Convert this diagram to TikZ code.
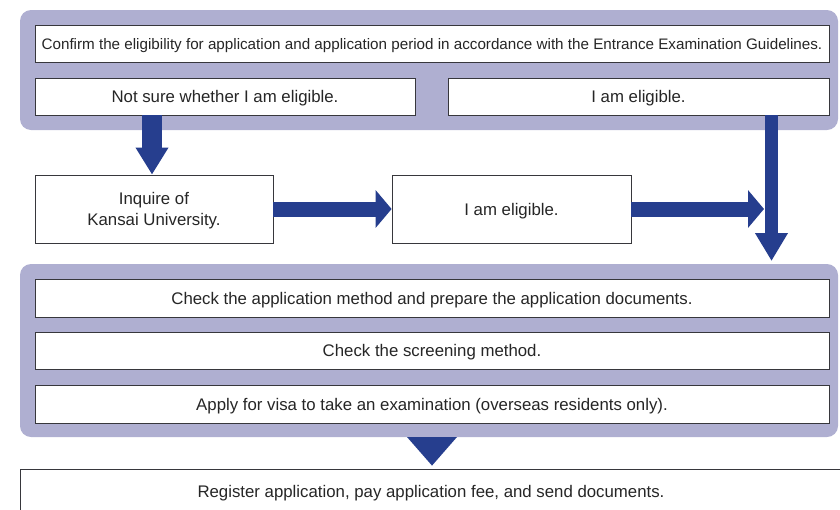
\documentclass[tikz,border=0pt]{standalone}
\usepackage{fontspec}
\setmainfont{Liberation Sans}
\usetikzlibrary{arrows.meta,calc}
\definecolor{panelc}{RGB}{175,175,209}
\definecolor{arrowc}{RGB}{38,62,142}
\definecolor{edgec}{RGB}{55,55,60}
\begin{document}
\begin{tikzpicture}[x=1pt,y=-1pt,
  panel/.style={fill=panelc,rounded corners=11pt},
  box/.style={draw=edgec,line width=0.8pt,fill=white,inner sep=0pt,align=center,
     text depth=0pt,font=\fontsize{16.8}{21}\selectfont,text=black!85},
  fatarrow/.style={draw=arrowc,line width=#1},
]
\useasboundingbox (0,0) rectangle (840,509);
% panels
\fill[panel] (20,10) rectangle (838,130);
\fill[panel] (20,264) rectangle (838,437);
\coordinate (p1s) at (432,437);
% top boxes
\node[box,minimum width=794pt,minimum height=37pt,font=\fontsize{15.2}{19}\selectfont] (conf) at (432,43.5) {Confirm the eligibility for application and application period in accordance with the Entrance Examination Guidelines.};
\node[box,minimum width=380pt,minimum height=37pt] (nsure) at (225,96.5) {Not sure whether I am eligible.};
\node[box,minimum width=381pt,minimum height=37pt] (elig1) at (638.5,96.5) {I am eligible.};
% middle row
\node[box,minimum width=238pt,minimum height=68pt] (inq) at (154,209) {Inquire of\\Kansai University.};
\node[box,minimum width=239pt,minimum height=68pt] (elig2) at (511.5,209) {I am eligible.};
% lower boxes
\node[box,minimum width=794pt,minimum height=38pt] (chk1) at (432,298) {Check the application method and prepare the application documents.};
\node[box,minimum width=794pt,minimum height=37pt] (chk2) at (432,350.5) {Check the screening method.};
\node[box,minimum width=794pt,minimum height=38pt] (visa) at (432,404) {Apply for visa to take an examination (overseas residents only).};
\node[box,minimum width=822pt,minimum height=44pt] (reg) at (431,491) {Register application, pay application fee, and send documents.};
% connectors
\coordinate (join) at (764,209);
\coordinate (dn) at (771.5,261);
\draw[fatarrow=20pt,-{Triangle[length=27pt,width=31pt]}] (nsure.south -| 152,0) -- (inq.north -| 152,0);
\draw[fatarrow=15pt,-{Triangle[length=16pt,width=37pt]}] (inq.east) -- (elig2.west);
\draw[fatarrow=15pt,-{Triangle[length=16pt,width=37pt]}] (elig2.east) -- (join);
\draw[fatarrow=13pt,-{Triangle[length=28pt,width=31pt]}] (elig1.south -| dn) -- (dn);
\fill[arrowc] ($(p1s)+(-25,0)$) -- ($(p1s)+(25,0)$) -- ($(reg.north -| p1s)+(0,-3)$) -- cycle;
\end{tikzpicture}
\end{document}
